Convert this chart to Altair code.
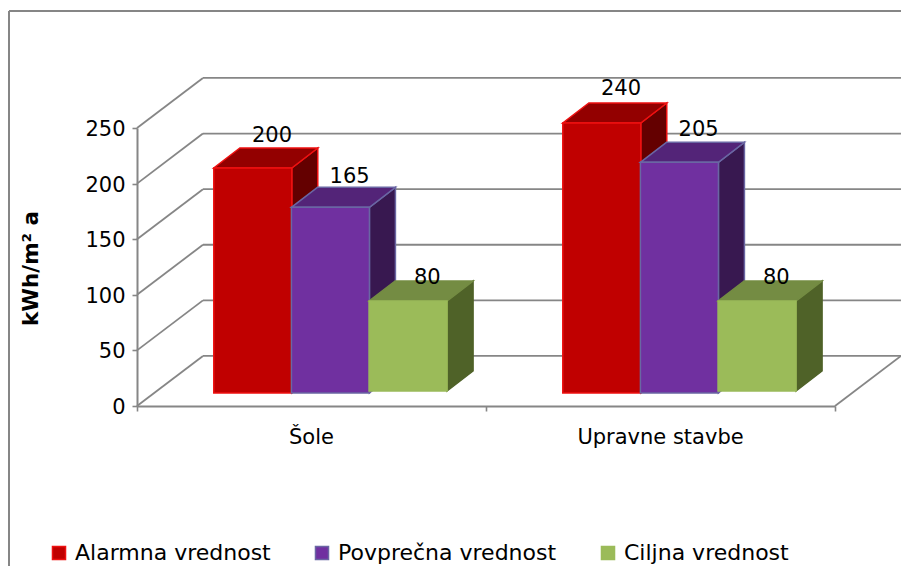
import altair as alt
import pandas as pd

categories = ["Šole", "Upravne stavbe"]
series = ["Alarmna vrednost", "Povprečna vrednost", "Ciljna vrednost"]
alarm = [200, 240]
avg = [165, 205]
target = [80, 80]
values = [alarm, avg, target]

FRONT = ["#C00000", "#7030A0", "#9BBB59"]
TOP = ["#930000", "#532478", "#748C43"]
SIDE = ["#640000", "#381850", "#4F6228"]
EDGE = ["#EE1111", "#6A66A3", None]
GRID = "#868686"
FONT = "DejaVu Sans"

# geometry expressed in scale units
XMAX, YMAX = 2, 250
PX_W, PX_H = 698, 278
BAR_W = 0.2235
DX, DY = 0.0745, 18
WALL_DX, WALL_DY = 0.189, 45
BASES = [11.7, 11.7, 13.5]
H = 1.0117

xs = alt.Scale(domain=[0, XMAX], range=[0, PX_W], nice=False)
ys = alt.Scale(domain=[0, YMAX], range=[PX_H, 0], nice=False)
X = lambda f, **k: alt.X(f, type="quantitative", scale=xs, **k)
Y = lambda f, **k: alt.Y(f, type="quantitative", scale=ys, **k)

layers = []

# walls and floor
ends = []
for v in range(0, YMAX + 1, 50):
    ends.append(dict(x=0, x2=WALL_DX, y=v, y2=v + WALL_DY))
    ends.append(dict(x=WALL_DX, x2=XMAX + WALL_DX, y=v + WALL_DY, y2=v + WALL_DY))
ends.append(dict(x=XMAX, x2=XMAX + WALL_DX, y=0, y2=WALL_DY))
layers.append(
    alt.Chart(pd.DataFrame(ends)).mark_rule(color=GRID, strokeWidth=1.8).encode(
        x=X("x", axis=alt.Axis(values=[0, 1, 2], labels=False, title=None, domainColor=GRID,
                               domainWidth=2, tickColor=GRID, tickWidth=1.6, tickSize=5, grid=False)),
        x2="x2",
        y=Y("y", axis=alt.Axis(values=list(range(0, YMAX + 1, 50)), title="kWh/m² a", grid=False,
                               domainColor=GRID, domainWidth=2, tickColor=GRID, tickWidth=1.6, tickSize=5,
                               labelFont=FONT, labelFontSize=21, labelColor="#000000", labelPadding=7,
                               labelOffset=1.5,
                               titleFont=FONT, titleFontSize=21.5, titleFontWeight="bold", titleColor="#000000",
                               titleX=-95, titleY=140)),
        y2="y2",
    )
)

color_scale = alt.Scale(domain=series, range=FRONT)
edge_scale = alt.Scale(domain=series, range=[e or f for e, f in zip(EDGE, FRONT)])

labels = []
for s, name in enumerate(series):
    fronts, tops, sides = [], [], []
    for c, cat in enumerate(categories):
        v = values[s][c]
        x0 = c + 0.22 + s * 0.2225
        x1 = x0 + BAR_W
        base, top = BASES[s], BASES[s] + v * H
        fronts.append(dict(cat=cat, series=name, x=x0, x2=x1, y=base, y2=top))
        for t in (0, 1):
            tops.append(dict(cat=cat, x=x0 + t * DX, x2=x1 + t * DX, y=top + t * DY))
            sides.append(dict(cat=cat, x=x1 + t * DX, y=base + t * DY, y2=top + t * DY))
        labels.append(dict(x=(x0 + x1) / 2 + 0.055, y=29.9 + v * 1.065, text=str(v)))
    layers.append(
        alt.Chart(pd.DataFrame(sides)).mark_area(orient="vertical", fill=SIDE[s], stroke=EDGE[s] or SIDE[s], strokeWidth=1.5).encode(
            x=X("x"), y=Y("y", stack=None), y2="y2", detail="cat:N")
    )
    layers.append(
        alt.Chart(pd.DataFrame(tops)).mark_area(orient="horizontal", fill=TOP[s], stroke=EDGE[s] or TOP[s], strokeWidth=1.5).encode(
            y=Y("y"), x=X("x", stack=None), x2="x2", detail="cat:N")
    )
    layers.append(
        alt.Chart(pd.DataFrame(fronts)).mark_rect(strokeWidth=1.5).encode(
            x=X("x"), x2="x2", y=Y("y"), y2="y2",
            fill=alt.Fill("series:N", scale=color_scale, title=None, legend=alt.Legend(
                orient="none", legendX=-89, legendY=414, direction="horizontal", columns=3,
                symbolType="square", symbolSize=170, symbolStrokeWidth=1.5, columnPadding=40,
                labelFont=FONT, labelFontSize=22, labelColor="#000000", labelOffset=5, labelLimit=300)),
            stroke=alt.Stroke("series:N", scale=edge_scale, title=None),
        )
    )

layers.append(
    alt.Chart(pd.DataFrame(labels)).mark_text(font=FONT, fontSize=21, color="#000000").encode(
        x=X("x"), y=Y("y"), text="text:N")
)
cats = pd.DataFrame(dict(x=[0.5, 1.5], y=[-28.8, -28.8], text=categories))
layers.append(
    alt.Chart(cats).mark_text(font=FONT, fontSize=21, color="#000000").encode(
        x=X("x"), y=Y("y"), text="text:N")
)

# chart-area frame, cropped by the picture at right and bottom
frame = alt.Chart(alt.Data(values=[{}]))
layers.append(frame.mark_rule(color=GRID, strokeWidth=2).encode(
    x=alt.value(-128), x2=alt.value(PX_W + 80), y=alt.value(-117)))
layers.append(frame.mark_rule(color=GRID, strokeWidth=2).encode(
    x=alt.value(-128), y=alt.value(-117), y2=alt.value(PX_H + 170)))

chart = alt.layer(*layers).resolve_scale(x="shared", y="shared").properties(
    width=PX_W, height=PX_H,
    padding={"left": 129, "top": 120, "right": 66, "bottom": 160},
    autosize=alt.AutoSizeParams(type="none"),
    background="#FFFFFF",
).configure_view(stroke=None)

chart.save("out.html", embed_options={"renderer": "svg", "actions": False})
